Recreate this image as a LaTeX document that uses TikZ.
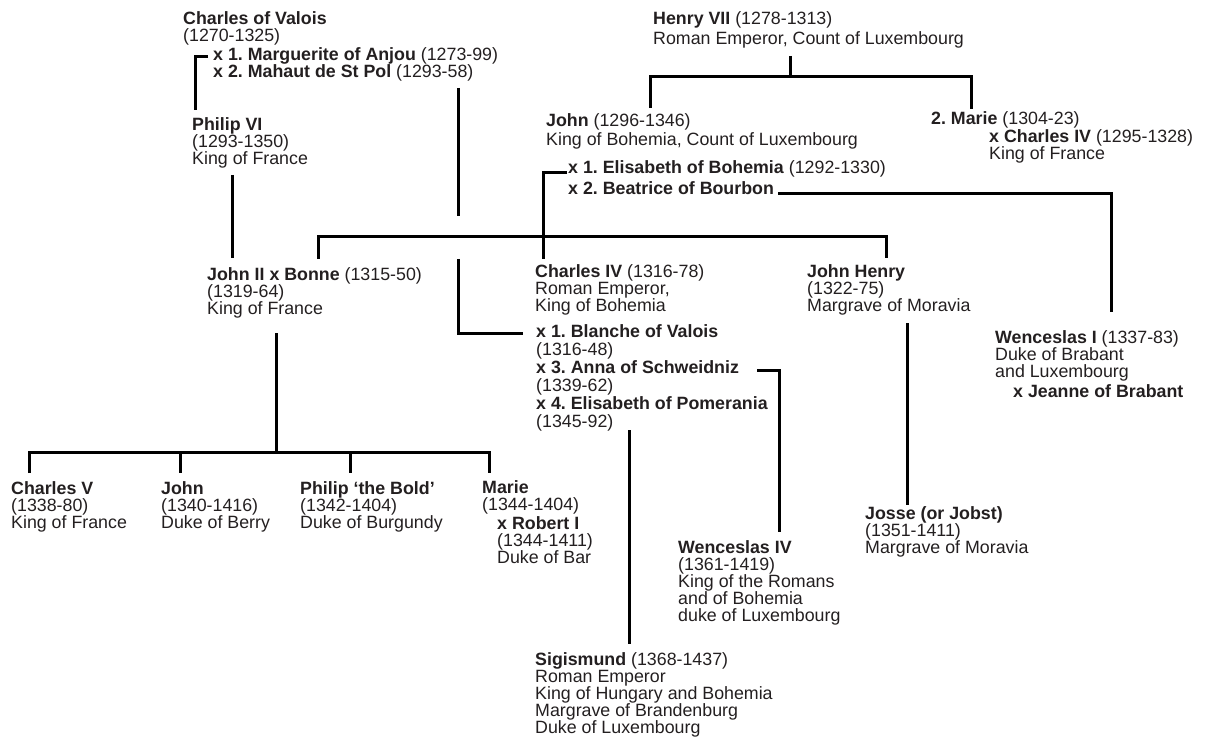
\documentclass[tikz,border=0pt]{standalone}
\usepackage{fontspec}
\setmainfont{Liberation Sans}
\frenchspacing
\definecolor{ink}{RGB}{35,31,32}
\tikzset{
  person/.style={anchor=base west, align=left, inner sep=0pt, text=ink,
    font=\fontsize{17.8}{17}\selectfont},
  widerows/.style={font=\fontsize{17.8}{18}\selectfont},
  tie/.style={draw=black, line width=3pt, line join=miter}
}
\begin{document}
\begin{tikzpicture}[x=1pt, y=-1pt]
    \useasboundingbox (0,0) rectangle (1205,738);

    % People (placed at the baseline of their last line)
    % first row
    \node[person] (valois) at (183,42) {\textbf{Charles of Valois}\\(1270-1325)};
    \node[person] (valoiswives) at (213,78) {\textbf{x 1. Marguerite of Anjou} (1273-99)\\\textbf{x 2. Mahaut de St Pol} (1293-58)};
    \node[person] (henry) at (653,45) {\textbf{Henry VII} (1278-1313)\\[3pt]Roman Emperor, Count of Luxembourg};

    % second row
    \node[person] (philip6) at (192,165) {\textbf{Philip VI}\\(1293-1350)\\King of France};
    \node[person] (john) at (546,146) {\textbf{John} (1296-1346)\\[2pt]King of Bohemia, Count of Luxembourg};
    \node[person] (johnwives) at (568,195) {\textbf{x 1. Elisabeth of Bohemia} (1292-1330)\\[4pt]\textbf{x 2. Beatrice of Bourbon}};
    \node[person] (marie2) at (931,125) {\textbf{2. Marie} (1304-23)};
    \node[person] (charles4fr) at (989,160) {\textbf{x Charles IV} (1295-1328)\\King of France};

    % third row
    \node[person] (john2) at (207,314) {\textbf{John II} \textbf{x Bonne} (1315-50)\\(1319-64)\\King of France};
    \node[person] (charles4) at (535,311) {\textbf{Charles IV} (1316-78)\\Roman Emperor,\\King of Bohemia};
    \node[person, widerows] (charleswives) at (536,427) {\textbf{x 1. Blanche of Valois}\\(1316-48)\\\textbf{x 3. Anna of Schweidniz}\\(1339-62)\\\textbf{x 4. Elisabeth of Pomerania}\\(1345-92)};
    \node[person] (johnhenry) at (807,311) {\textbf{John Henry}\\(1322-75)\\Margrave of Moravia};
    \node[person] (wenceslas1) at (995,377) {\textbf{Wenceslas I} (1337-83)\\Duke of Brabant\\and Luxembourg};
    \node[person] (jeanne) at (1013,397) {\textbf{x Jeanne of Brabant}};

    % fourth row
    \node[person] (charles5) at (11,528) {\textbf{Charles V}\\(1338-80)\\King of France};
    \node[person] (johnberry) at (161,528) {\textbf{John}\\(1340-1416)\\Duke of Berry};
    \node[person] (philipbold) at (300,528) {\textbf{Philip ‘the Bold’}\\(1342-1404)\\Duke of Burgundy};
    \node[person] (marie) at (482,510) {\textbf{Marie}\\(1344-1404)};
    \node[person] (robert) at (497,563) {\textbf{x Robert I}\\(1344-1411)\\Duke of Bar};
    \node[person] (wenceslas4) at (678,621) {\textbf{Wenceslas IV}\\(1361-1419)\\King of the Romans\\and of Bohemia\\duke of Luxembourg};
    \node[person] (josse) at (865,553) {\textbf{Josse (or Jobst)}\\(1351-1411)\\Margrave of Moravia};
    \node[person] (sigismund) at (535,733) {\textbf{Sigismund} (1368-1437)\\Roman Emperor\\King of Hungary and Bohemia\\Margrave of Brandenburg\\Duke of Luxembourg};

    % Junctions
    \coordinate (valoisA) at (208,57);
    \coordinate (valoisB) at (195,57);
    \coordinate (valoisC) at (195,110);
    \coordinate (mahautA) at (458,88);
    \coordinate (mahautB) at (458,216);
    \coordinate (blancheA) at (458,259);
    \coordinate (blancheB) at (458,333);
    \coordinate (blancheC) at (523,333);
    \coordinate (philipA) at (232,175);
    \coordinate (philipB) at (232,258);
    \coordinate (henryA) at (790,56);
    \coordinate (henryB) at (790,77);
    \coordinate (johnA) at (650,108);
    \coordinate (johnB) at (650,77);
    \coordinate (marieA) at (971,77);
    \coordinate (marieB) at (971,109);
    \coordinate (elisA) at (567,173);
    \coordinate (elisB) at (543,173);
    \coordinate (elisC) at (543,259);
    \coordinate (bonneA) at (318,259);
    \coordinate (bonneB) at (318,237);
    \coordinate (jhenryA) at (886,237);
    \coordinate (jhenryB) at (886,258);
    \coordinate (beatA) at (778,194);
    \coordinate (beatB) at (1111,194);
    \coordinate (beatC) at (1111,312);
    \coordinate (bonneD) at (276,333);
    \coordinate (bonneE) at (276,452);
    \coordinate (ch5A) at (29,473);
    \coordinate (ch5B) at (29,452);
    \coordinate (marieC) at (489,452);
    \coordinate (marieD) at (489,473);
    \coordinate (berryA) at (180,452);
    \coordinate (berryB) at (180,473);
    \coordinate (boldA) at (350,452);
    \coordinate (boldB) at (350,473);
    \coordinate (annaA) at (757,370);
    \coordinate (annaB) at (779,370);
    \coordinate (annaC) at (779,532);
    \coordinate (pomA) at (629,430);
    \coordinate (pomB) at (629,644);
    \coordinate (jhenryC) at (907,323);
    \coordinate (jhenryD) at (907,505);

    % Lines of descent
    \draw[tie] (valoisA) -- (valoisB) -- (valoisC);
    \draw[tie] (mahautA) -- (mahautB);
    \draw[tie] (blancheA) -- (blancheB) -- (blancheC);
    \draw[tie] (philipA) -- (philipB);
    \draw[tie] (henryA) -- (henryB);
    \draw[tie] (johnA) -- (johnB) -- (marieA) -- (marieB);
    \draw[tie] (elisA) -- (elisB) -- (elisC);
    \draw[tie] (bonneA) -- (bonneB) -- (jhenryA) -- (jhenryB);
    \draw[tie] (beatA) -- (beatB) -- (beatC);
    \draw[tie] (bonneD) -- (bonneE);
    \draw[tie] (ch5A) -- (ch5B) -- (marieC) -- (marieD);
    \draw[tie] (berryA) -- (berryB);
    \draw[tie] (boldA) -- (boldB);
    \draw[tie] (annaA) -- (annaB) -- (annaC);
    \draw[tie] (pomA) -- (pomB);
    \draw[tie] (jhenryC) -- (jhenryD);

\end{tikzpicture}
\end{document}
